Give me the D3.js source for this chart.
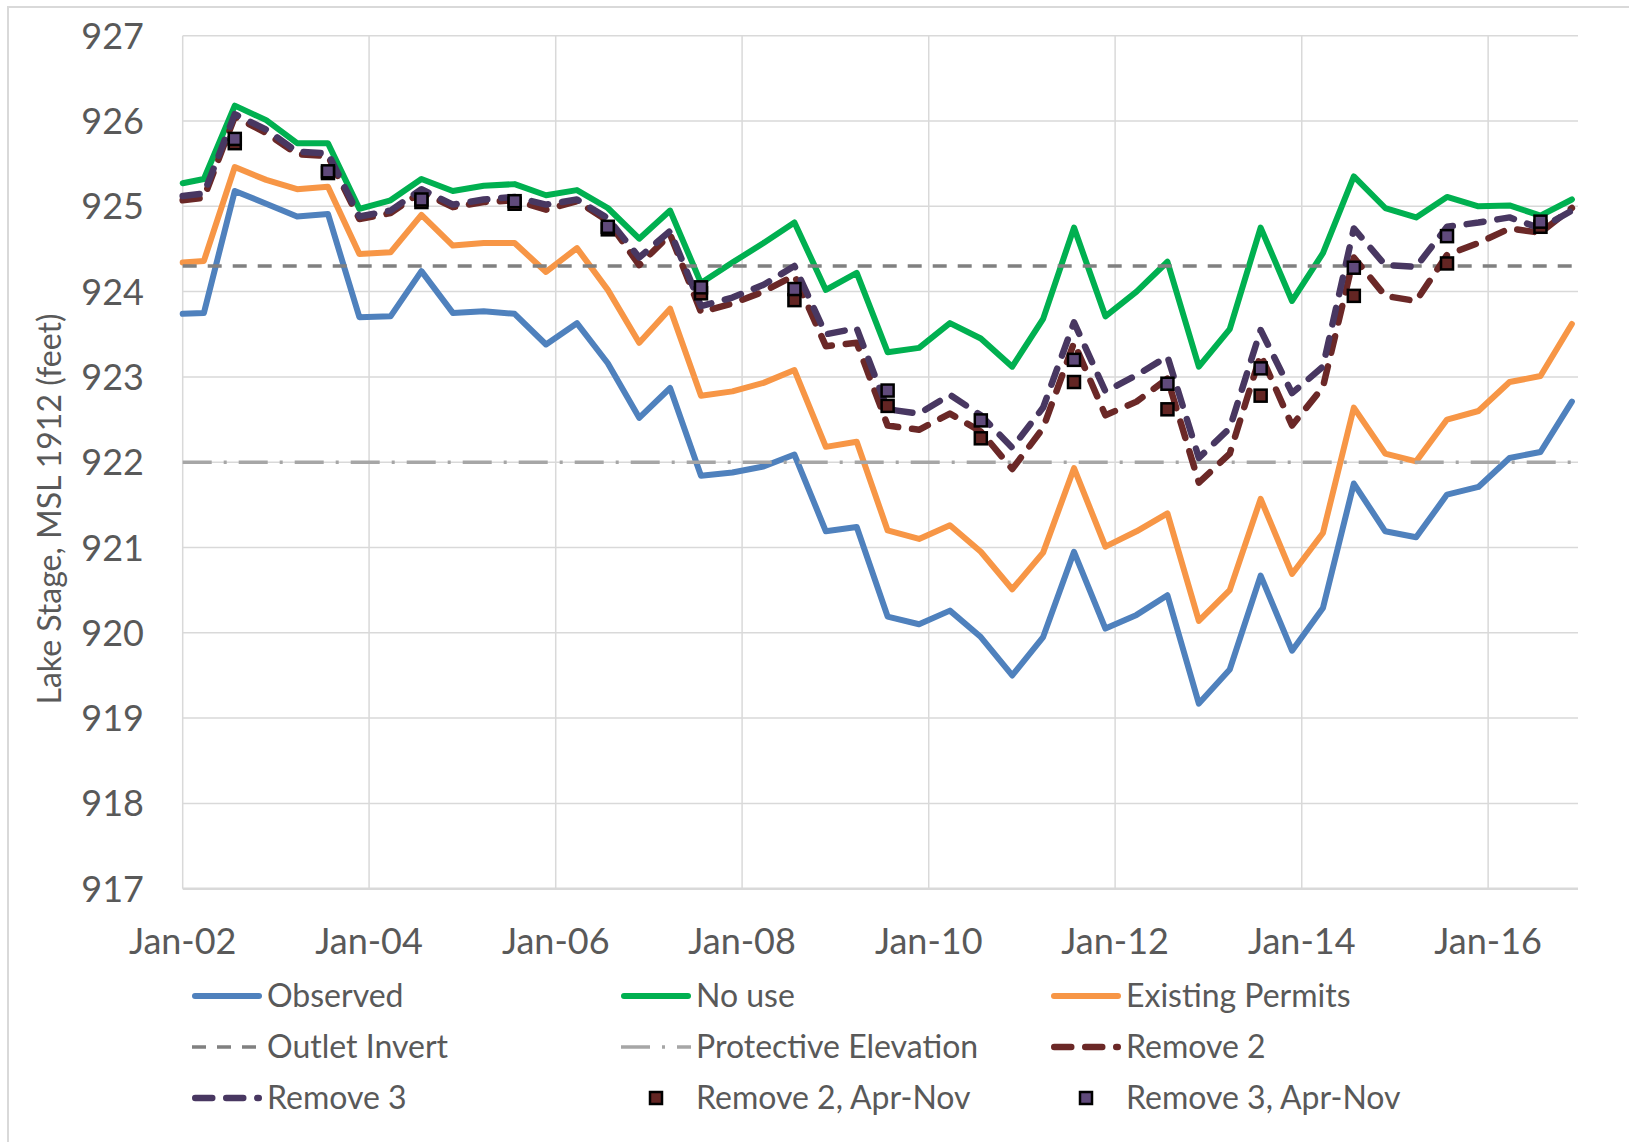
<!DOCTYPE html>
<html>
<head>
<meta charset="utf-8">
<script src="https://d3js.org/d3.v7.min.js"></script>
<style>
  body { margin: 0; background: #fff; }
  text { font-family: Lato, 'Liberation Sans', sans-serif; fill: #595959; }
</style>
</head>
<body>
<script>
//============ data =========//
var dates = [
  '2002-01-01', '2002-03-25', '2002-07-24', '2002-11-24',
  '2003-03-25', '2003-07-24', '2003-11-24',
  '2004-03-25', '2004-07-24', '2004-11-24',
  '2005-03-25', '2005-07-24', '2005-11-24',
  '2006-03-25', '2006-07-24', '2006-11-24',
  '2007-03-25', '2007-07-24', '2007-11-24',
  '2008-03-25', '2008-07-24', '2008-11-24',
  '2009-03-25', '2009-07-24', '2009-11-24',
  '2010-03-25', '2010-07-24', '2010-11-24',
  '2011-03-25', '2011-07-24', '2011-11-24',
  '2012-03-25', '2012-07-24', '2012-11-24',
  '2013-03-25', '2013-07-24', '2013-11-24',
  '2014-03-25', '2014-07-24', '2014-11-24',
  '2015-03-25', '2015-07-24', '2015-11-24',
  '2016-03-25', '2016-07-24', '2016-11-24'
];

var observed = [923.74, 923.75, 925.18, 925.03, 924.88, 924.91, 923.70, 923.71, 924.24, 923.75, 923.77, 923.74,
  923.38, 923.63, 923.16, 922.52, 922.87, 921.84, 921.88, 921.95, 922.09, 921.19, 921.24,
  920.19, 920.10, 920.26, 919.95, 919.50, 919.95, 920.95, 920.05, 920.21, 920.44, 919.17,
  919.57, 920.67, 919.79, 920.29, 921.75, 921.19, 921.12, 921.62, 921.71, 922.05, 922.12, 922.71];

var noUse = [925.27, 925.32, 926.18, 926.01, 925.74, 925.74, 924.97, 925.07, 925.32, 925.18, 925.24, 925.26,
  925.13, 925.19, 924.98, 924.62, 924.95, 924.10, 924.34, 924.57, 924.81, 924.02, 924.22,
  923.29, 923.34, 923.63, 923.45, 923.12, 923.68, 924.75, 923.71, 924.00, 924.35, 923.12,
  923.56, 924.75, 923.89, 924.45, 925.35, 924.98, 924.87, 925.11, 925.00, 925.01, 924.89, 925.08];

var existingPermits = [924.34, 924.36, 925.46, 925.31, 925.20, 925.23, 924.44, 924.46, 924.90, 924.54, 924.57, 924.57,
  924.23, 924.51, 924.02, 923.40, 923.80, 922.78, 922.83, 922.93, 923.08, 922.18, 922.24,
  921.20, 921.10, 921.26, 920.95, 920.51, 920.94, 921.93, 921.01, 921.19, 921.40, 920.14,
  920.50, 921.57, 920.69, 921.17, 922.64, 922.10, 922.01, 922.50, 922.60, 922.94, 923.01, 923.62];

var remove2 = [925.07, 925.10, 926.05, 925.86, 925.61, 925.59, 924.85, 924.92, 925.17, 924.99, 925.05, 925.07,
  924.96, 925.06, 924.83, 924.31, 924.67, 923.76, 923.86, 924.00, 924.19, 923.36, 923.40,
  922.43, 922.38, 922.57, 922.36, 921.92, 922.40, 923.40, 922.55, 922.71, 922.98, 921.76,
  922.10, 923.26, 922.43, 922.88, 924.40, 923.95, 923.89, 924.43, 924.57, 924.74, 924.69, 924.98];

var remove3 = [925.12, 925.15, 926.08, 925.90, 925.64, 925.62, 924.88, 924.95, 925.20, 925.02, 925.08, 925.11,
  925.02, 925.08, 924.86, 924.40, 924.71, 923.83, 923.93, 924.08, 924.30, 923.50, 923.57,
  922.62, 922.57, 922.79, 922.55, 922.17, 922.64, 923.64, 922.83, 923.02, 923.24, 922.05,
  922.40, 923.55, 922.81, 923.12, 924.74, 924.31, 924.29, 924.76, 924.81, 924.87, 924.74, 924.95];

// Apr-Nov averages, plotted mid-year
var markerDates = ['2002-07-24', '2003-07-24', '2004-07-24', '2005-07-24', '2006-07-24', '2007-07-24', '2008-07-24',
  '2009-07-24', '2010-07-24', '2011-07-24', '2012-07-24', '2013-07-24', '2014-07-24', '2015-07-24', '2016-07-24'];
var remove2AprNov = [925.74, 925.39, 925.05, 925.03, 924.73, 923.98, 923.90, 922.66, 922.28, 922.94, 922.62, 922.78, 923.95, 924.33, 924.76];
var remove3AprNov = [925.79, 925.41, 925.08, 925.06, 924.76, 924.05, 924.03, 922.84, 922.49, 923.20, 922.92, 923.10, 924.28, 924.65, 924.82];

var outletInvert = 924.3,
  protectiveElevation = 922.0;

var yTicks = [917, 918, 919, 920, 921, 922, 923, 924, 925, 926, 927];
var xTicks = ['2002-01-01', '2004-01-01', '2006-01-01', '2008-01-01', '2010-01-01', '2012-01-01', '2014-01-01', '2016-01-01'];

//============ layout =========//
var width = 1629, height = 1142;
var plot = {left: 182.7, right: 1578, top: 35.7, bottom: 888.7};
var gridColor = '#d9d9d9';

var parse = d3.timeParse('%Y-%m-%d');

var x = d3.scaleTime()
  .domain([parse('2002-01-01'), parse('2016-12-18')])
  .range([plot.left, plot.right]);

var y = d3.scaleLinear()
  .domain([917, 927])
  .range([plot.bottom, plot.top]);

var svg = d3.select('body').append('svg')
  .attr('width', width)
  .attr('height', height);

// chart area border (only left/top edges are inside the frame)
svg.append('rect')
  .attr('x', 8).attr('y', 7)
  .attr('width', width + 20).attr('height', height + 20)
  .attr('fill', '#fff')
  .attr('stroke', gridColor)
  .attr('stroke-width', 2);

//gridlines
svg.append('g').selectAll('line')
  .data(yTicks)
  .enter().append('line')
  .attr('x1', plot.left).attr('x2', plot.right)
  .attr('y1', function(d) { return y(d); })
  .attr('y2', function(d) { return y(d); })
  .attr('stroke', gridColor)
  .attr('stroke-width', function(d) { return d === 917 ? 2.5 : 1.5; });

svg.append('g').selectAll('line')
  .data(xTicks)
  .enter().append('line')
  .attr('x1', function(d) { return x(parse(d)); })
  .attr('x2', function(d) { return x(parse(d)); })
  .attr('y1', plot.top).attr('y2', plot.bottom)
  .attr('stroke', gridColor)
  .attr('stroke-width', 1.5);

//axis labels
svg.append('g').selectAll('text')
  .data(yTicks)
  .enter().append('text')
  .attr('x', 144)
  .attr('y', function(d) { return y(d) + 13; })
  .attr('text-anchor', 'end')
  .style('font-size', '36px')
  .text(function(d) { return d; });

var fmt = d3.timeFormat('%b-%y');
svg.append('g').selectAll('text')
  .data(xTicks)
  .enter().append('text')
  .attr('x', function(d) { return x(parse(d)); })
  .attr('y', 954)
  .attr('text-anchor', 'middle')
  .style('font-size', '36px')
  .text(function(d) { return fmt(parse(d)); });

svg.append('text')
  .attr('transform', 'translate(61,509) rotate(-90)')
  .attr('text-anchor', 'middle')
  .style('font-size', '32px')
  .text('Lake Stage, MSL 1912 (feet)');

//============ series =========//
var dashed = '17,14', outletDash = '14,11', protDash = '29,12,3,12';

var series = [
  {name: 'Observed', values: observed, color: '#4f81bd', dash: null, w: 6},
  {name: 'No use', values: noUse, color: '#00b050', dash: null, w: 6},
  {name: 'Existing Permits', values: existingPermits, color: '#f79646', dash: null, w: 6},
  {name: 'Outlet Invert', level: outletInvert, color: '#808080', dash: outletDash, w: 3.5},
  {name: 'Protective Elevation', level: protectiveElevation, color: '#a6a6a6', dash: protDash, w: 3.5},
  {name: 'Remove 2', values: remove2, color: '#6b2827', dash: dashed, w: 6.5},
  {name: 'Remove 3', values: remove3, color: '#483761', dash: dashed, w: 6.5}
];

var line = d3.line()
  .x(function(d) { return x(d.date); })
  .y(function(d) { return y(d.value); });

series.forEach(function(s) {
  var pts;
  if (s.values) {
    pts = dates.map(function(d, i) { return {date: parse(d), value: s.values[i]}; });
  } else {
    pts = [{date: parse(dates[0]), value: s.level}, {date: parse(dates[dates.length - 1]), value: s.level}];
  }
  svg.append('path')
    .datum(pts)
    .attr('d', line)
    .attr('fill', 'none')
    .attr('stroke', s.color)
    .attr('stroke-width', s.w)
    .attr('stroke-linejoin', 'round')
    .attr('stroke-linecap', s.values ? 'round' : 'butt')
    .attr('stroke-dasharray', s.dash);
});

//markers
var markerSets = [
  {name: 'Remove 2, Apr-Nov', values: remove2AprNov, color: '#632523'},
  {name: 'Remove 3, Apr-Nov', values: remove3AprNov, color: '#604a7b'}
];
var ms = 12;

markerSets.forEach(function(m) {
  svg.append('g').selectAll('rect')
    .data(markerDates)
    .enter().append('rect')
    .attr('x', function(d) { return x(parse(d)) - ms / 2; })
    .attr('y', function(d, i) { return y(m.values[i]) - ms / 2; })
    .attr('width', ms).attr('height', ms)
    .attr('fill', m.color)
    .attr('stroke', '#000')
    .attr('stroke-width', 2.5);
});

//============ legend =========//
var colX = [192, 621, 1051], rowY = [996, 1047, 1098];
var legendItems = series.concat(markerSets);

var lg = svg.append('g').selectAll('g')
  .data(legendItems)
  .enter().append('g')
  .attr('transform', function(d, i) {
    return 'translate(' + colX[i % 3] + ',' + rowY[Math.floor(i / 3)] + ')';
  });

lg.filter(function(d) { return !!d.w; })
  .append('line')
  .attr('x1', function(d) { return d.values ? d.w / 2 : 0; })
  .attr('x2', function(d) { return d.values ? 70 - d.w / 2 : 70; })
  .attr('stroke', function(d) { return d.color; })
  .attr('stroke-width', function(d) { return d.w; })
  .attr('stroke-linecap', function(d) { return d.values ? 'round' : 'butt'; })
  .attr('stroke-dasharray', function(d) { return d.dash; });

lg.filter(function(d) { return !d.w; })
  .append('rect')
  .attr('x', 35 - ms / 2).attr('y', -ms / 2)
  .attr('width', ms).attr('height', ms)
  .attr('fill', function(d) { return d.color; })
  .attr('stroke', '#000')
  .attr('stroke-width', 2.5);

lg.append('text')
  .attr('x', 75)
  .attr('y', 11)
  .style('font-size', '32px')
  .text(function(d) { return d.name; });
</script>
</body>
</html>
